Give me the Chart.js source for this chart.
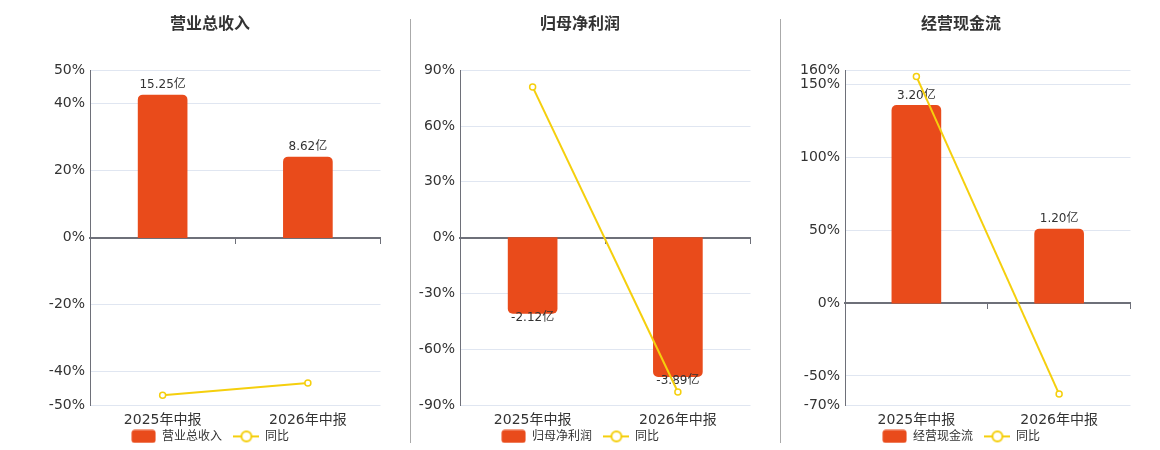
<!DOCTYPE html>
<html>
<head>
<meta charset="utf-8">
<script src="https://cdn.jsdelivr.net/npm/chart.js@4.4.1/dist/chart.umd.min.js"></script>
<style>
  body { margin: 0; background: #fff; width: 1160px; height: 450px; position: relative; overflow: hidden; }
  .panel { position: absolute; top: 0; height: 450px; }
  .sep { position: absolute; top: 19px; width: 1px; height: 424px; background: #aaa; }
</style>
</head>
<body>
<div class="panel" style="left:34px"><canvas id="c1" width="352" height="450"></canvas></div>
<div class="panel" style="left:404px"><canvas id="c2" width="352" height="450"></canvas></div>
<div class="panel" style="left:786px"><canvas id="c3" width="350" height="450"></canvas></div>
<div class="sep" style="left:410px"></div>
<div class="sep" style="left:780px"></div>
<script>
// data
var periods = ['2025年中报', '2026年中报'];

var revenue = [15.25, 8.62];          // 亿
var revenueYoY = [-47.1, -43.4];      // %
var revenueTicks = [50, 40, 20, 0, -20, -40, -50];

var netProfit = [-2.12, -3.89];
var netProfitYoY = [81, -83];
var netProfitTicks = [90, 60, 30, 0, -30, -60, -90];

var cashFlow = [3.20, 1.20];
var cashFlowYoY = [155.7, -62.5];
var cashFlowTicks = [160, 150, 100, 50, 0, -50, -70];

var barColor = '#e94b1b';
var lineColor = '#f5cf0d';
var fontFamily = '"DejaVu Sans", "Noto Sans CJK SC", sans-serif';

// legend icons
function makeBarIcon() {
  var c = document.createElement('canvas');
  c.width = 25; c.height = 14;
  var g = c.getContext('2d');
  g.fillStyle = barColor;
  g.beginPath();
  g.roundRect(0.5, 0.5, 24, 13, 3);
  g.fill();
  return c;
}
function makeLineIcon() {
  var c = document.createElement('canvas');
  c.width = 26; c.height = 14;
  var g = c.getContext('2d');
  g.strokeStyle = lineColor;
  g.lineWidth = 2;
  g.beginPath(); g.moveTo(0, 7); g.lineTo(26, 7); g.stroke();
  g.fillStyle = '#fff';
  g.beginPath(); g.arc(13, 7, 5, 0, Math.PI * 2); g.fill(); g.stroke();
  return c;
}
var barIcon = makeBarIcon();
var lineIcon = makeLineIcon();

var barLabels = {
  id: 'barLabels',
  afterDatasetDraw: function (chart, args) {
    if (args.index !== 0) return;
    var ctx = chart.ctx;
    var ds = chart.data.datasets[0];
    ctx.save();
    ctx.font = '12px ' + fontFamily;
    ctx.fillStyle = '#333';
    ctx.textAlign = 'center';
    args.meta.data.forEach(function (el, i) {
      var v = ds.data[i];
      var txt = v.toFixed(2) + '亿';
      if (v >= 0) {
        ctx.textBaseline = 'bottom';
        ctx.fillText(txt, el.x, el.y - 4);
      } else {
        ctx.textBaseline = 'top';
        ctx.fillText(txt, el.x, el.y - 2);
      }
    });
    ctx.restore();
  }
};

function makeChart(id, title, barName, bars, yoy, ticks, barMax, yWidth) {
  var yMax = ticks[0], yMin = ticks[ticks.length - 1];
  return new Chart(document.getElementById(id), {
    type: 'bar',
    data: {
      labels: periods,
      datasets: [{
        type: 'bar',
        label: barName,
        data: bars,
        yAxisID: 'y2',
        backgroundColor: barColor,
        borderRadius: 5,
        barThickness: 49,
        order: 1
      }, {
        type: 'line',
        label: '同比',
        data: yoy,
        yAxisID: 'y',
        borderColor: lineColor,
        borderWidth: 2,
        pointRadius: 3,
        pointBackgroundColor: '#fff',
        pointBorderColor: lineColor,
        pointBorderWidth: 1.5,
        tension: 0,
        order: 0
      }]
    },
    options: {
      responsive: false,
      animation: false,
      devicePixelRatio: 1,
      layout: { padding: { left: 0, right: 0, top: 0, bottom: -2.4 } },
      plugins: {
        tooltip: { enabled: false },
        title: {
          display: true,
          text: title,
          color: '#333',
          font: { family: '"Noto Sans CJK SC", sans-serif', size: 16, weight: 'bold' },
          padding: { top: 13, bottom: 38 }
        },
        legend: {
          position: 'bottom',
          labels: {
            usePointStyle: true,
            pointStyleWidth: 25,
            padding: 2,
            color: '#333',
            font: { family: fontFamily, size: 12 },
            generateLabels: function (chart) {
              return chart.data.datasets.map(function (ds, i) {
                return {
                  text: i === 0 ? ds.label + '\u2002 ' : ds.label,
                  pointStyle: i === 0 ? barIcon : lineIcon,
                  fillStyle: i === 0 ? barColor : '#fff',
                  strokeStyle: i === 0 ? barColor : lineColor,
                  lineWidth: 0,
                  fontColor: '#333',
                  hidden: !chart.isDatasetVisible(i),
                  datasetIndex: i
                };
              });
            }
          }
        }
      },
      scales: {
        x: {
          grid: { display: false, drawTicks: false },
          border: { display: false },
          ticks: { color: '#333', padding: 0, font: { family: fontFamily, size: 14, lineHeight: 30 / 14 } },
          afterFit: function (s) { s.height = 23.4; }
        },
        x2: {
          type: 'category',
          position: { y: 0 },
          grid: { drawOnChartArea: false, drawTicks: true, tickLength: 5, color: '#6e7079', offset: true },
          border: { display: true, color: '#6e7079', width: 2 },
          ticks: { display: false }
        },
        y: {
          min: yMin,
          max: yMax,
          grid: { color: '#e0e6f1', drawTicks: false },
          border: { display: true, color: '#6e7079', width: 1 },
          ticks: {
            color: '#333',
            padding: 5,
            font: { family: fontFamily, size: 14 },
            callback: function (v) { return v + '%'; }
          },
          afterBuildTicks: function (s) { s.ticks = ticks.map(function (v) { return { value: v }; }); },
          afterFit: function (s) { s.width = yWidth; }
        },
        y2: {
          display: false,
          min: barMax * yMin / yMax,
          max: barMax
        }
      }
    },
    plugins: [barLabels]
  });
}

makeChart('c1', '营业总收入', '营业总收入', revenue, revenueYoY, revenueTicks, 17.9, 56);
makeChart('c2', '归母净利润', '归母净利润', netProfit, netProfitYoY, netProfitTicks, 4.68, 56);
makeChart('c3', '经营现金流', '经营现金流', cashFlow, cashFlowYoY, cashFlowTicks, 3.77, 59);
</script>
</body>
</html>
